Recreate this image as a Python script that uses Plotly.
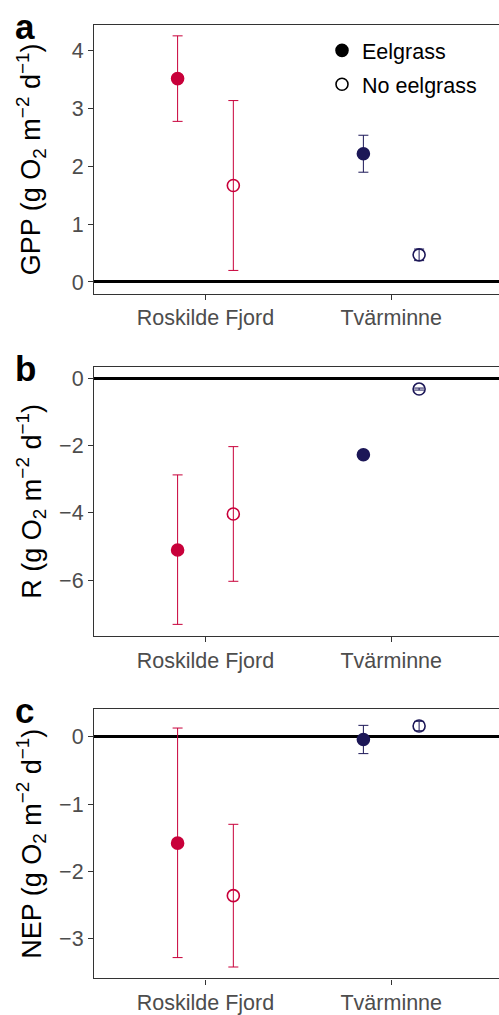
import plotly.graph_objects as go

# ---- data ----
sites = ["Roskilde Fjord", "Tvärminne"]
treatments = ["Eelgrass", "No eelgrass"]
site_colors = ["#C8003A", "#1C1757"]

gpp_eel = [3.52, 2.22]
gpp_eel_lo = [2.78, 1.90]
gpp_eel_hi = [4.26, 2.54]
gpp_no = [1.67, 0.47]
gpp_no_lo = [0.20, 0.37]
gpp_no_hi = [3.14, 0.57]

r_eel = [-5.10, -2.27]
r_eel_lo = [-7.31, -2.37]
r_eel_hi = [-2.87, -2.17]
r_no = [-4.03, -0.32]
r_no_lo = [-6.03, -0.35]
r_no_hi = [-2.03, -0.29]

nep_eel = [-1.58, -0.04]
nep_eel_lo = [-3.28, -0.25]
nep_eel_hi = [0.13, 0.17]
nep_no = [-2.36, 0.16]
nep_no_lo = [-3.42, 0.09]
nep_no_hi = [-1.30, 0.23]

panels = [
    dict(letter="a", name="GPP", eel=(gpp_eel, gpp_eel_lo, gpp_eel_hi),
         no=(gpp_no, gpp_no_lo, gpp_no_hi), yrange=[-0.2, 4.45], dtick=1,
         top=25, bottom=295),
    dict(letter="b", name="R", eel=(r_eel, r_eel_lo, r_eel_hi),
         no=(r_no, r_no_lo, r_no_hi), yrange=[-7.66, 0.33], dtick=2,
         top=369, bottom=639.3),
    dict(letter="c", name="NEP", eel=(nep_eel, nep_eel_lo, nep_eel_hi),
         no=(nep_no, nep_no_lo, nep_no_hi), yrange=[-3.59, 0.41], dtick=1,
         top=712.7, bottom=983.3),
]

W, H = 499, 1015
ML = 94
PW = W - ML
FONT = "Liberation Sans, Arial, sans-serif"
dodge = {"Eelgrass": -0.15, "No eelgrass": 0.15}

fig = go.Figure()

for p_i, p in enumerate(panels):
    sfx = "" if p_i == 0 else str(p_i + 1)
    for tr in treatments:
        vals, lo, hi = p["eel"] if tr == "Eelgrass" else p["no"]
        for s_i, site in enumerate(sites):
            col = site_colors[s_i]
            fig.add_trace(go.Scatter(
                x=[s_i + 1 + dodge[tr]], y=[vals[s_i]],
                xaxis="x" + sfx, yaxis="y" + sfx,
                mode="markers",
                marker=dict(
                    symbol="circle" if tr == "Eelgrass" else "circle-open",
                    size=12,
                    color=col,
                    line=dict(width=1.6, color=col),
                ),
                error_y=dict(type="data", symmetric=False,
                             array=[hi[s_i] - vals[s_i]],
                             arrayminus=[vals[s_i] - lo[s_i]],
                             color=col, thickness=1, width=5),
                showlegend=False, hoverinfo="skip",
            ))

# legend entries
for i, tr in enumerate(treatments):
    fig.add_trace(go.Scatter(
        x=[None], y=[None], mode="markers", name=tr,
        legendgroup=tr,
        marker=dict(symbol="circle" if tr == "Eelgrass" else "circle-open",
                    size=12, color="black", line=dict(width=1.6, color="black")),
        showlegend=True,
    ))

layout = dict(
    width=W, height=H,
    margin=dict(l=ML, r=0, t=0, b=0),
    paper_bgcolor="white", plot_bgcolor="white",
    font=dict(family=FONT, size=21.5, color="#4d4d4d"),
    showlegend=True,
    legend=dict(x=(322 - ML) / PW, xanchor="left", y=1 - 30 / H, yanchor="top",
                bgcolor="rgba(0,0,0,0)", font=dict(size=21.5, color="black"),
                tracegroupgap=3, itemclick=False),
    annotations=[],
)

for p_i, p in enumerate(panels):
    sfx = "" if p_i == 0 else str(p_i + 1)
    dom = [1 - p["bottom"] / H, 1 - p["top"] / H]
    layout["xaxis" + sfx] = dict(
        domain=[0, 1], anchor="y" + sfx, range=[0.4, 2.58],
        tickvals=[1, 2], ticktext=sites,
        showline=True, mirror=True, linecolor="#333333", linewidth=1.2,
        ticks="outside", ticklen=5, tickcolor="#333333", tickwidth=1.2,
        showgrid=False, zeroline=False,
        tickfont=dict(size=21.5, color="#4d4d4d", family=FONT),
        fixedrange=True,
    )
    layout["yaxis" + sfx] = dict(
        domain=dom, anchor="x" + sfx, range=p["yrange"], dtick=p["dtick"],
        showline=True, mirror=False, linecolor="#333333", linewidth=1.2,
        ticks="outside", ticklen=5, tickcolor="#333333", tickwidth=1.2,
        showgrid=False, zeroline=True, zerolinecolor="black", zerolinewidth=2.5,
        tickfont=dict(size=21.5, color="#4d4d4d", family=FONT),
        fixedrange=True,
    )
    mid = 1 - ((p["top"] + p["bottom"]) / 2) / H
    layout["annotations"].append(dict(
        text=p["name"] + " (g O<sub>2</sub> m<sup>\u22122</sup> d<sup>\u22121</sup>)",
        xref="paper", yref="paper", x=(31 - ML) / PW, y=mid,
        xanchor="center", yanchor="middle", textangle=-90, showarrow=False,
        font=dict(size=27, color="black", family=FONT),
    ))
    layout["annotations"].append(dict(
        text="<b>" + p["letter"] + "</b>",
        xref="paper", yref="paper", x=(13 - ML) / PW, y=1 - (p["top"] - 20) / H,
        xanchor="left", yanchor="top", showarrow=False,
        font=dict(size=35, color="black", family=FONT),
    ))

fig.update_layout(**layout)
fig.write_html("out.html")
